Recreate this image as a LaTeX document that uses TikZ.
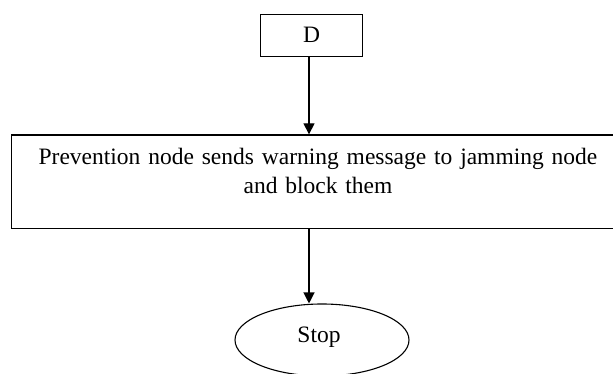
\documentclass[tikz,border=0pt]{standalone}
\usepackage{fontspec}
\setmainfont{Liberation Serif}
\usetikzlibrary{arrows.meta,shapes.geometric}
\begin{document}
\begin{tikzpicture}[x=1pt,y=-1pt,
  every node/.style={font=\fontsize{23.5}{29.4}\selectfont},
  box/.style={draw=black,line width=1.2pt,rectangle,inner sep=0pt},
  oval/.style={draw=black,line width=1.1pt,ellipse,inner sep=0pt},
  arr/.style={draw=black,line width=1.2pt,-{Triangle[width=11pt,length=11pt]}}]
\useasboundingbox (0,0) rectangle (613,374);
\clip (0,0) rectangle (613,374);
\node[box,minimum width=101.6pt,minimum height=42.4pt] (d) at (311.5,35.5) {};
\node (dtext) at (311.5,34.5) {D};
\node[box,minimum width=604pt,minimum height=93.3pt] (big) at (313.3,181.6) {};
\node[align=center,text width=600pt] (bigtext) at (318,171) {Prevention node sends warning message to jamming node\\and block them};
\node[oval,minimum width=174pt,minimum height=72pt] (stop) at (322,340) {};
\node (stoptext) at (319,337) {Stop};
\coordinate (axis) at (309,0);
\coordinate (a0) at (d.south -| axis);
\coordinate (a1) at (axis |- big.north);
\coordinate (b0) at (axis |- big.south);
\coordinate (b1) at (axis |- stop.north);
\draw[arr] (a0) -- (a1);
\draw[arr] (b0) -- (b1);
\end{tikzpicture}
\end{document}
